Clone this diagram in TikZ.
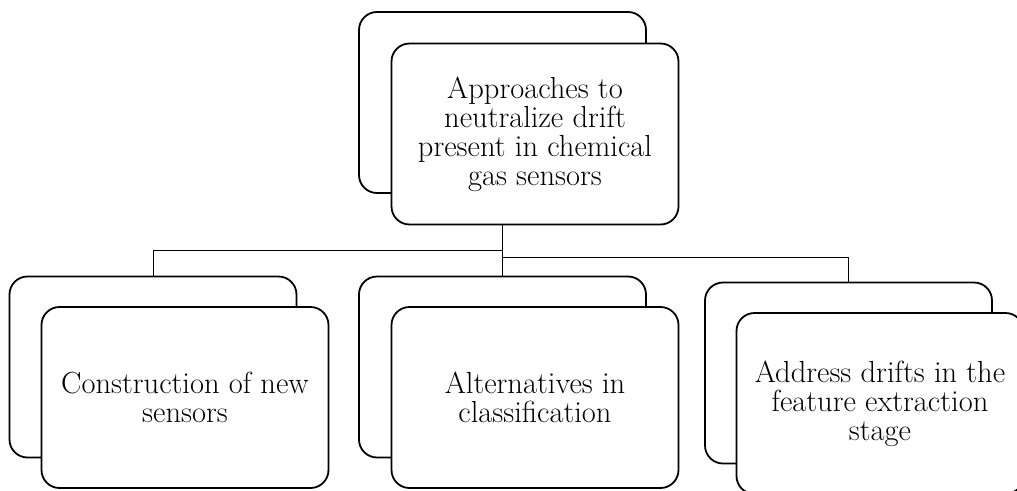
\documentclass[tikz,border=0pt]{standalone}
\usetikzlibrary{calc}
\tikzset{
  card/.style={draw=black, line width=1.8pt, rounded corners=18pt, fill=white,
    minimum width=287pt, minimum height=181pt, inner sep=0pt},
  cardtext/.style={card, align=center, font=\fontsize{30.5}{29}\selectfont},
  link/.style={draw=black, line width=1pt}
}
\begin{document}
\begin{tikzpicture}[x=1pt,y=-1pt]
\useasboundingbox (0,0) rectangle (1017,490);
\clip (0,0) rectangle (1017,490);
% top
\node[card] (topback) at (502.5,102.5) {};
\node[cardtext] (top) at (535,134) {Approaches to\\neutralize drift\\present in chemical\\gas sensors};
% left
\node[card] (leftback) at (153,367) {};
\node[cardtext] (left) at (185,397.5) {Construction of new\\sensors};
% middle
\node[card] (midback) at (502.5,367) {};
\node[cardtext] (mid) at (535,397.5) {Alternatives in\\classification};
% right
\node[card] (rightback) at (848.5,373) {};
\node[cardtext] (right) at (880,403.5) {Address drifts in the\\feature extraction\\stage};
% connectors
\coordinate (jL) at (502.5,250);
\coordinate (jR) at (502.5,257);
\draw[link] (top.south -| topback) -- (midback.north);
\draw[link] (jL) -| (leftback.north);
\draw[link] (jR) -| (rightback.north);
\end{tikzpicture}
\end{document}
